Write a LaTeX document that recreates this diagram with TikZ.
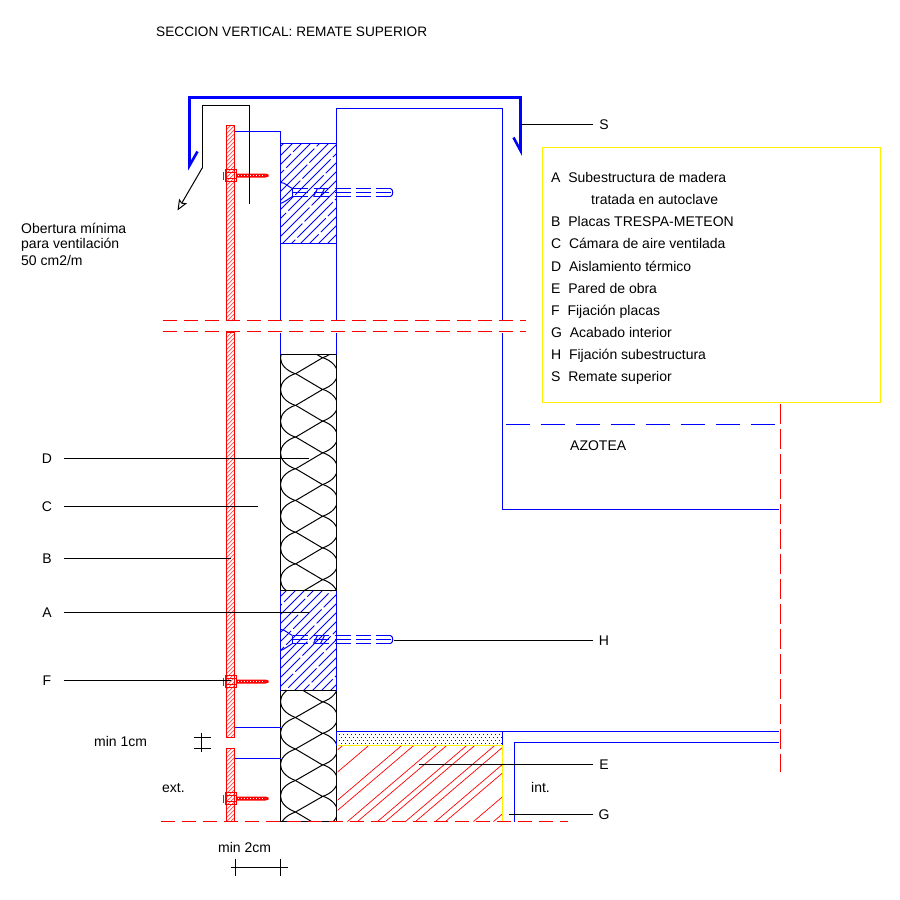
\documentclass[tikz,border=0pt]{standalone}
\usepackage{fontspec}
\setmainfont{Liberation Sans}
\usetikzlibrary{arrows.meta}
\begin{document}
\begin{tikzpicture}[x=1pt,y=-1pt,font=\fontsize{14}{16}\selectfont] % seccion vertical
\tikzstyle{rotulo} = [inner sep=0pt, anchor=west, text height=10pt, text depth=0pt, xshift=-.5pt, yshift=.5pt] % free text
\tikzstyle{letraizq} = [inner sep=0pt, minimum width=33pt, text height=10pt, text depth=0pt] % letter on the left, leader starts at its border
\tikzstyle{letrader} = [inner sep=0pt, minimum width=21pt, text height=10pt, text depth=0pt] % letter on the right
\tikzstyle{azul} = [blue, line width=1pt]
\tikzstyle{azulgrueso} = [blue, line width=2.6pt, line join=miter]
\tikzstyle{rojo} = [red, line width=1pt]
\tikzstyle{negro} = [black, line width=1pt]
\tikzstyle{corterojo} = [red, line width=1pt, dash pattern=on 14pt off 7pt] % break lines
\tikzset{
  tornillorojo/.pic={ % fixing of the plates
    \fill[red] (10,-2) rectangle (39,2) -- (42,1) -- (42,-1) -- (39,-2) ;
    \draw[white,line width=1pt,dash pattern=on 1pt off 2pt] (11,0) -- (38,0) ;
    \draw[rojo,line width=1.4pt] (-1,-6) rectangle (10,6) ;
    \draw[rojo,line width=1.4pt] (-3,-4) -- (-3,4) ;
    \draw[rojo,line width=1.8pt] (0,-3) -- (10,-3) (0,3) -- (10,3) ;
  },
  tornilloazul/.pic={ % fixing of the substructure
    \draw[azul] (0,-4) -- (0,4) ;
    \foreach \xa/\xb in {0/15,21/36,42/58,63/78,83/98} {
      \draw[azul] (\xa,-4) -- (\xb,-4) (\xa,0) -- (\xb,0) (\xa,4) -- (\xb,4) ;
    }
    \draw[azul] (98,-4) .. controls (101,-3) and (101,3) .. (98,4) ;
    \draw[azul] (-12,-10) .. controls (-7,-10) and (-5,-6) .. (0,-4) ;
    \draw[azul] (-12,11) .. controls (-7,9) and (-5,7) .. (0,4) ;
    \draw[azul] (25,-4) -- (21,4) (32,-4) -- (28,4) ;
  }
}
\useasboundingbox (0,0) rectangle (900,900);
\begin{scope}[shift={(.5,.5)}] % lines on whole pixels

% hatch of the red plates
\begin{scope}
\clip (226,125) rectangle (234,320) (226,332) rectangle (234,737) (226,748) rectangle (234,821);
\foreach \y in {125,129,...,833} {
  \draw[red!70,line width=.7pt] (226,\y) -- (234,\y-8) ;
}
\end{scope}
\draw[rojo] (226,125) rectangle (234,320) ;
\draw[rojo] (226,332) rectangle (234,737) ;
\draw[rojo] (226,748) rectangle (234,821) ;

% hatch of the wood
\begin{scope}
\clip (280,143) rectangle (336,243) (280,590) rectangle (336,690);
\foreach \y in {146,155,...,750} {
  \pgfmathsetmacro\fase{mod(\y*7,53)}
  \draw[blue,line width=.8pt,dash pattern=on 50pt off 3pt,dash phase=\fase pt] (280,\y) -- (336,\y-56) ;
}
\end{scope}

% insulation, upper and lower band
\begin{scope}
\clip (280,354) rectangle (336,590) (280,690) rectangle (336,821);
\foreach \k in {-1,0,...,7} {
  \draw[negro] (295,373+31.7*\k) -- (322,389+31.7*\k) -- (295,405+31.7*\k) ;
  \draw[negro] (295,373+31.7*\k) .. controls (275,380+31.7*\k) and (275,398+31.7*\k) .. (295,405+31.7*\k) ;
  \draw[negro] (322,357+31.7*\k) .. controls (342,364+31.7*\k) and (342,382+31.7*\k) .. (322,389+31.7*\k) ;
}
\foreach \k in {-1,0,...,4} {
  \draw[negro] (295,717+31.5*\k) -- (322,733+31.5*\k) -- (295,748.5+31.5*\k) ;
  \draw[negro] (295,717+31.5*\k) .. controls (275,724+31.5*\k) and (275,741+31.5*\k) .. (295,748.5+31.5*\k) ;
  \draw[negro] (322,701+31.5*\k) .. controls (342,708+31.5*\k) and (342,726+31.5*\k) .. (322,733+31.5*\k) ;
}
\end{scope}
\draw[negro] (280,354) rectangle (336,590) ;
\draw[negro] (280,690) rectangle (336,821) ;

% wall with its hatch
\begin{scope}
\clip (337,745) rectangle (502,821);
\foreach \x in {253,279,312,324,347,357,377,385,405,415,435,445,473,493} {
  \draw[red,line width=.7pt] (\x,821) -- (\x+115,723) ;
}
\end{scope}
% plaster dots
\foreach \y/\d in {734/0,737/2,740/0,743/2} {
  \foreach \x in {339,343,...,499} {
    \fill[blue] (\x+\d-.6,\y-.6) rectangle (\x+\d+.6,\y+.6) ;
  }
}

% blue outlines
\draw[azul] (234,131) -- (280,131) -- (280,320) ;
\draw[azul] (280,332) -- (280,354) ;
\draw[azul] (336,320) -- (336,108) -- (502,108) -- (502,320) ;
\draw[azul] (336,332) -- (336,354) ;
\draw[azul] (502,332) -- (502,509) -- (778,509) ;
\draw[azul] (280,143) -- (336,143) ;
\draw[azul] (280,243) -- (336,243) ;
\draw[azul] (280,590) -- (280,690) ;
\draw[azul] (336,590) -- (336,690) ;
\draw[azul] (234,727) -- (280,727) ;
\draw[azul] (234,758) -- (280,758) ;
\draw[azul] (336,745) -- (336,731) -- (778,731) ;
\draw[azul] (502,731) -- (502,745) ;
\draw[azul] (514,821) -- (514,742) -- (778,742) ;
\draw[azulgrueso] (197,151) -- (189,165) -- (189,97) -- (520,97) -- (520,150) -- (513,137) ;
\draw[blue, line width=1pt, dash pattern=on 24pt off 11pt] (505,424) -- (778,424) ;

% yellow finish
\draw[yellow,line width=1.4pt] (337,745) -- (502,745) -- (502,821) ;

% screws
\pic at (226,175) {tornillorojo};
\pic at (226,681) {tornillorojo};
\pic at (226,798) {tornillorojo};
\pic at (292,192) {tornilloazul};
\pic at (292,639) {tornilloazul};

% break lines
\draw[corterojo] (162,320) -- (525,320) ;
\draw[corterojo] (162,331) -- (525,331) ;
\draw[corterojo] (160,821) -- (567,821) ;
\draw[red, line width=1pt, dash pattern=on 20pt off 5pt] (780,403) -- (780,771) ;

% ventilation arrow
\coordinate (ventA) at (249,203);
\coordinate (ventB) at (177,210);
\draw[negro] (ventA) -- (249,105) -- (202,105) -- (202,167) ;
\draw[negro,-{Stealth[open,length=11pt,width=9pt,inset=2pt,fill=white]}] (202,167) -- (ventB) ;

% legend
\node[draw=yellow, fill=white, line width=.8pt, outer sep=0pt, minimum width=338pt, minimum height=255pt, inner sep=0pt, anchor=north west] (leyenda) at (541.4,146.4) {};
\node[rotulo] (leyA) at (551,177) {A~~Subestructura de madera};
\node[rotulo] (leyA2) at (591,199) {tratada en autoclave};
\node[rotulo] (leyB) at (551,221) {B~~Placas TRESPA-METEON};
\node[rotulo] (leyC) at (551,243) {C~~Cámara de aire ventilada};
\node[rotulo] (leyD) at (551,266) {D~~Aislamiento térmico};
\node[rotulo] (leyE) at (551,288) {E~~Pared de obra};
\node[rotulo] (leyF) at (551,310) {F~~Fijación placas};
\node[rotulo] (leyG) at (551,332) {G~~Acabado interior};
\node[rotulo] (leyH) at (551,354) {H~~Fijación subestructura};
\node[rotulo] (leyS) at (551,376) {S~~Remate superior};

% free texts
\node[rotulo,font=\fontsize{13.65}{16}\selectfont] (titulo) at (156,31) {SECCION VERTICAL: REMATE SUPERIOR};
\node[rotulo] (obertura1) at (21,228) {Obertura mínima};
\node[rotulo] (obertura2) at (21,243) {para ventilación};
\node[rotulo] (obertura3) at (21,260) {50 cm2/m};
\node[rotulo] (azotea) at (570,445) {AZOTEA};
\node[rotulo] (min1) at (94,741) {min 1cm};
\node[rotulo] (ext) at (162,787) {ext.};
\node[rotulo] (int) at (531,787) {int.};
\node[rotulo] (min2) at (218,847) {min 2cm};

% leaders
\node[letraizq] (D) at (46.5,458) {D};
\node[letraizq] (C) at (46.5,506) {C};
\node[letraizq] (B) at (46.5,558) {B};
\node[letraizq] (A) at (46.5,612) {A};
\node[letraizq] (F) at (46.5,680) {F};
\node[letrader] (S) at (603.5,124) {S};
\node[letrader] (H) at (603.5,640) {H};
\node[letrader] (E) at (603.5,764) {E};
\node[letrader] (G) at (603.5,814) {G};
\coordinate (finD) at (308,458);
\coordinate (finC) at (257,506);
\coordinate (finB) at (230,558);
\coordinate (finA) at (308,612);
\coordinate (finF) at (230,680);
\coordinate (finS) at (520,124);
\coordinate (finH) at (393,640);
\coordinate (finE) at (418,764);
\coordinate (finG) at (508,814);
\draw[negro] (D) -- (finD) ;
\draw[negro] (C) -- (finC) ;
\draw[negro] (B) -- (finB) ;
\draw[negro] (A) -- (finA) ;
\draw[negro] (F) -- (finF) ;
\draw[negro] (S) -- (finS) ;
\draw[negro] (H) -- (finH) ;
\draw[negro] (E) -- (finE) ;
\draw[negro] (G) -- (finG) ;

% dimensions
\draw[negro] (193,737) -- (210,737) ;
\draw[negro] (193,748) -- (210,748) ;
\draw[negro] (201,732) -- (201,751) ;
\draw[negro] (230,867) -- (287,867) ;
\draw[negro] (235,858) -- (235,875) ;
\draw[negro] (280,858) -- (280,875) ;
\end{scope}
\end{tikzpicture}
\end{document}
